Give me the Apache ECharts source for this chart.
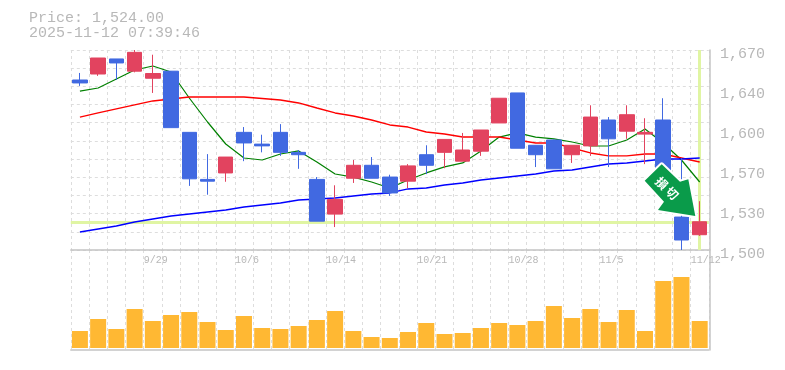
<!DOCTYPE html>
<html><head><meta charset="utf-8">
<style>html,body{margin:0;padding:0;background:#fff}#c{width:785px;height:370px}</style>
<script src="https://cdn.jsdelivr.net/npm/echarts@6/dist/echarts.min.js"></script>
</head><body><div id="c"></div>
<script>
const categories=['9/22','9/24','9/25','9/26','9/29','9/30','10/1','10/2','10/3','10/6','10/7','10/8','10/9','10/10','10/14','10/15','10/16','10/17','10/20','10/21','10/22','10/23','10/24','10/27','10/28','10/29','10/30','10/31','11/4','11/5','11/6','11/7','11/10','11/11','11/12'];
const shownDates=['9/29','10/6','10/14','10/21','10/28','11/5','11/12'];
const opens=[1644.5,1649.6,1662.4,1652,1646,1652,1600,1560,1565.5,1600,1590,1600,1583,1560,1530.5,1561,1572,1562,1558.5,1581,1583,1575.5,1584,1608,1633.5,1589,1593.5,1581,1588.5,1610.5,1601,1598.5,1610.5,1528,1513];
const closes=[1642,1663.2,1659,1668,1650,1604,1560.5,1558.5,1579,1591,1588.5,1583,1581,1524.5,1543,1572,1561,1548.5,1571.5,1572,1594,1585,1602,1629,1586.5,1581,1569,1589,1613,1594.5,1615,1600,1565.5,1508.5,1524];
const lows=[1639.5,1648,1644.5,1651,1633.5,1604,1554.5,1547,1558,1575.5,1583,1580,1569,1524.5,1519.5,1557,1561,1546,1552.5,1564.5,1569.5,1575.5,1580,1608,1586.5,1570.5,1569,1574,1580,1570.5,1594.5,1573,1564,1500,1512];
const highs=[1650.5,1663.2,1662.4,1670,1666,1652,1600,1581.5,1579,1604.5,1598,1607,1585,1562,1555,1576.5,1579,1564,1573,1589,1594,1599.5,1602,1629,1633.5,1589,1594,1589,1623,1613,1623,1612,1629,1578,1541.5];
const maShort=[1635,1637.7,1645.4,1653,1656.4,1651.3,1629.2,1608.8,1590.1,1578.2,1576.5,1581.6,1584.2,1574.8,1564.6,1562,1557.8,1552.7,1559.5,1565.5,1570.6,1574,1584.2,1596,1599.5,1596,1594.4,1591.8,1588.4,1588.4,1593.5,1602.9,1591,1576.5,1557.8];
const maMid=[1613,1616.5,1619.9,1623.3,1626.7,1628.4,1630,1630,1630,1630,1628.8,1627.5,1625,1620.7,1616.5,1613.9,1610.5,1606.3,1604.5,1600.3,1598.6,1596,1596,1596,1593.5,1591,1591,1586.7,1582.5,1580,1580,1581.6,1581.6,1578.2,1574.8];
const maLong=[1515.3,1517.9,1520.4,1523.8,1526.4,1528.9,1530.6,1532.3,1534,1536.6,1538.3,1540,1542.5,1543.4,1544.2,1545.9,1547.6,1548.5,1551.9,1552.7,1555.3,1557,1559.5,1561.2,1562.9,1564.6,1567.2,1568,1570.6,1573.1,1574,1575.7,1577.4,1577.4,1578.2];
const volumes=[17,29,19,39,27,33,36,26,18,32,20,19,22,28,37,17,11,10,16,25,14,15,20,25,23,27,42,30,39,26,38,17,67,71,27];
const yTickValues=[1500,1534,1568,1602,1636,1670];
const yTickLabels=['1,500','1,530','1,570','1,600','1,640','1,670'];
const yGridValues=[1500,1515.45,1530.91,1546.36,1561.82,1577.27,1592.73,1608.18,1623.64,1639.09,1654.55,1670];
const lastPrice=1524;
const priceText='Price: 1,524.00';
const timeText='2025-11-12 07:39:46';

const MONO='"Liberation Mono",monospace', GRAY='#b8b8b8', GRID='#dddddd', AXIS='#c4c4c4';
const dashed={show:true,lineStyle:{color:GRID,type:[3,3],width:1}};
const candle=categories.map((_,i)=>[opens[i],closes[i],lows[i],highs[i]]);
const arrowPts=[[661.7,164.3],[680,181.7],[688.3,179.3],[695.3,216],[658,210],[664,201.7],[644.7,180.7]];
const chart=echarts.init(document.getElementById('c'),null,{renderer:'canvas'});
chart.setOption({
 animation:false,backgroundColor:'#fff',
 grid:[{left:70.8,top:50,width:638,height:200},{left:70.8,top:250,width:638,height:100}],
 xAxis:[
  {type:'category',gridIndex:0,data:categories,boundaryGap:true,
   axisLine:{onZero:false,lineStyle:{color:AXIS,width:1.5}},axisTick:{show:false},
   splitLine:Object.assign({interval:0},dashed),
   axisLabel:{interval:(i,v)=>shownDates.includes(v),color:GRAY,fontFamily:MONO,fontSize:10,margin:5,align:'left',padding:[0,0,0,-9],hideOverlap:false,showMaxLabel:true}},
  {type:'category',gridIndex:1,data:categories,boundaryGap:true,
   axisLine:{onZero:false,lineStyle:{color:AXIS,width:1.5}},axisTick:{show:false},
   splitLine:Object.assign({interval:0},dashed),axisLabel:{show:false}}
 ],
 yAxis:[
  {type:'value',gridIndex:0,position:'right',offset:1.2,min:1500,max:1670,
   axisLine:{show:true,lineStyle:{color:AXIS,width:1.5}},
   axisTick:{show:false,customValues:yGridValues},splitLine:dashed,
   axisLabel:{customValues:yTickValues,formatter:v=>yTickLabels[yTickValues.indexOf(v)],color:GRAY,fontFamily:MONO,fontSize:15,margin:10,verticalAlign:'top',lineHeight:8,hideOverlap:false}},
  {type:'value',gridIndex:1,position:'right',offset:1.2,min:-2,max:98,
   axisLine:{show:true,lineStyle:{color:AXIS,width:1.5}},axisTick:{show:false},splitLine:{show:false},axisLabel:{show:false}}
 ],
 title:{text:priceText+'\n'+timeText,left:24,top:6,textStyle:{color:GRAY,fontFamily:MONO,fontSize:15,fontWeight:'normal',lineHeight:15}},
 series:[
  {type:'line',name:'guides',data:[],xAxisIndex:0,yAxisIndex:0,z:1,silent:true,
   markLine:{silent:true,z:1,symbol:'none',label:{show:false},animation:false,
    lineStyle:{color:'#e0f5a3',width:3,type:'solid'},
    data:[{yAxis:lastPrice},{xAxis:categories[categories.length-1]}]}},
  {type:'line',name:'MA short',data:maShort,xAxisIndex:0,yAxisIndex:0,z:2,symbol:'none',lineStyle:{color:'#008000',width:1.2}},
  {type:'line',name:'MA mid',data:maMid,xAxisIndex:0,yAxisIndex:0,z:2,symbol:'none',lineStyle:{color:'#ff0000',width:1.4}},
  {type:'line',name:'MA long',data:maLong,xAxisIndex:0,yAxisIndex:0,z:2,symbol:'none',lineStyle:{color:'#0000ff',width:1.4}},
  {type:'candlestick',name:'price',data:candle,xAxisIndex:0,yAxisIndex:0,z:3,barWidth:15,
   itemStyle:{color:'#e2435f',color0:'#4169e1',borderColor:'#e2435f',borderColor0:'#4169e1',borderWidth:1}},
  {type:'bar',name:'volume',data:volumes,xAxisIndex:1,yAxisIndex:1,z:3,barWidth:16,itemStyle:{color:'#ffb833'}}
 ],
 graphic:[
  {type:'polygon',z:100,shape:{points:arrowPts},style:{fill:'#fff',stroke:'#fff',lineWidth:4,lineJoin:'round'}},
  {type:'polygon',z:101,shape:{points:arrowPts},style:{fill:'#0a9b4a'}},
  {type:'text',z:102,x:661.7,y:183.3,rotation:-Math.PI/4,style:{text:'損',fill:'#fff',font:'bold 12px "Noto Sans CJK JP"',align:'center',verticalAlign:'middle'}},
  {type:'text',z:102,x:672.2,y:193.3,rotation:-Math.PI/4,style:{text:'切',fill:'#fff',font:'bold 12px "Noto Sans CJK JP"',align:'center',verticalAlign:'middle'}}
 ]
});
</script></body></html>
